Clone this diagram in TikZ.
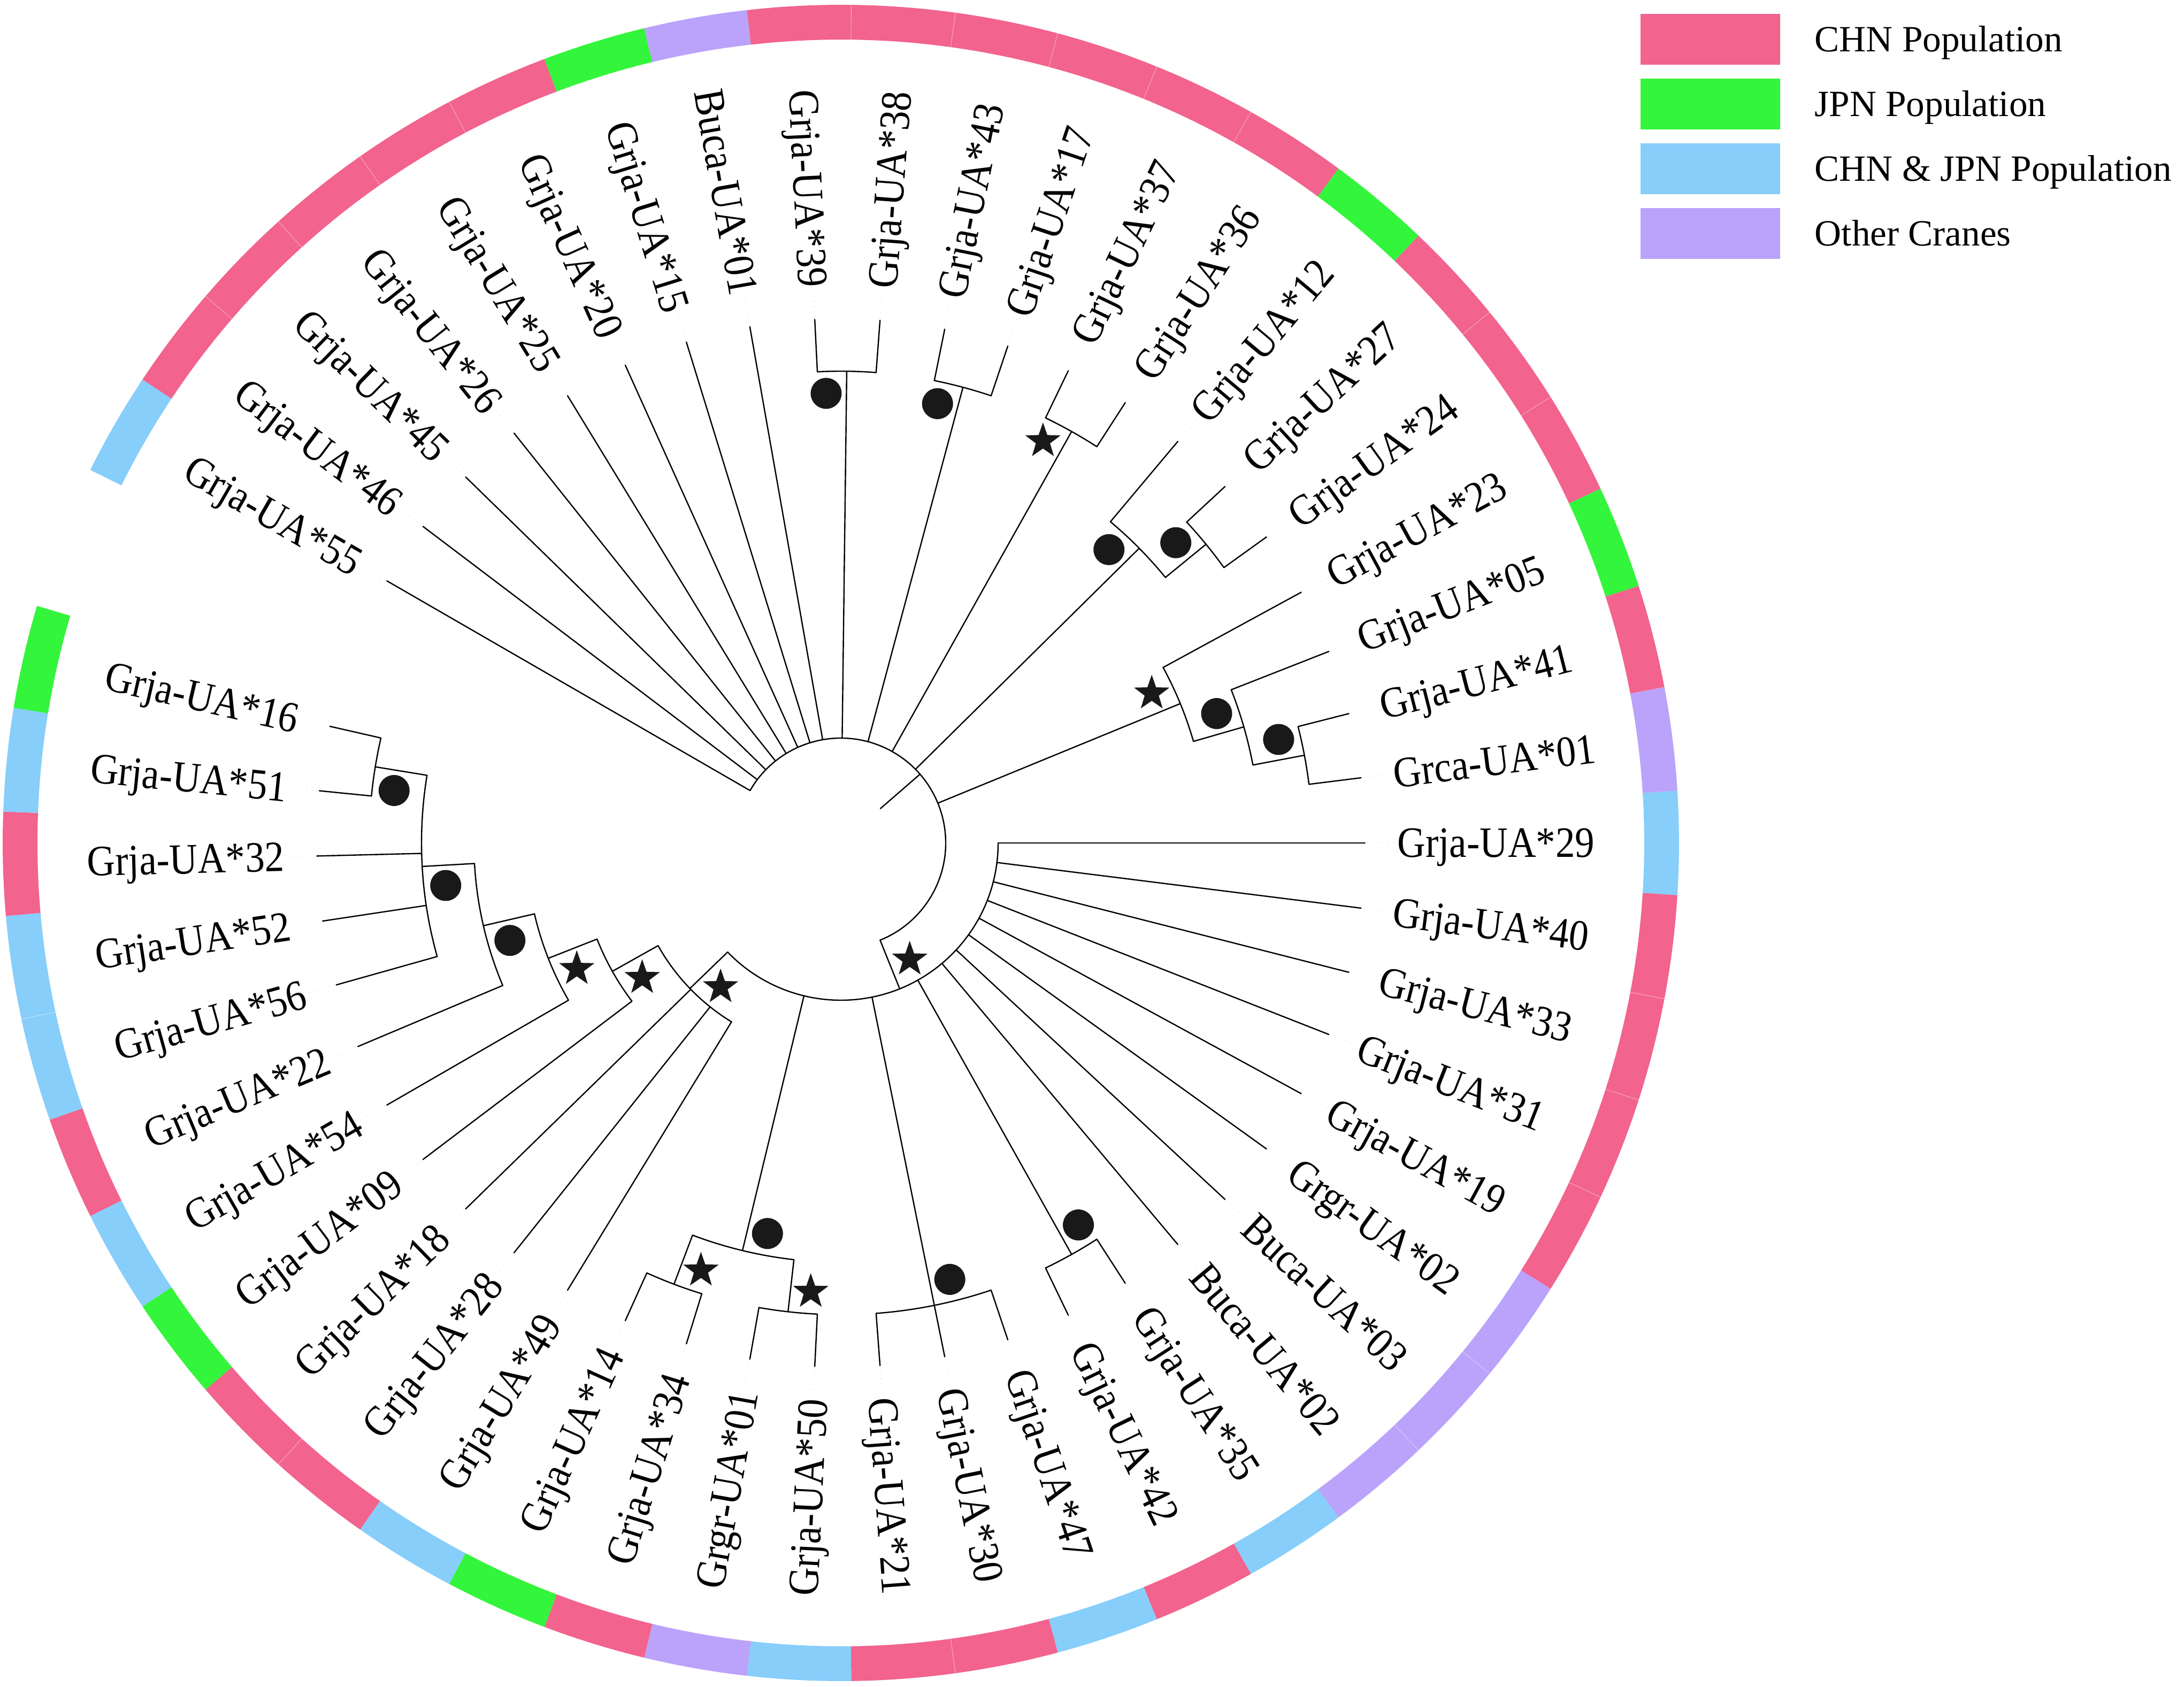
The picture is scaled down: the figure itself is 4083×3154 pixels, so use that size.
\documentclass[tikz,border=0pt]{standalone}
\usepackage{fontspec}
\setmainfont{Liberation Serif}
\newfontfamily\labfont[FakeStretch=0.9]{Liberation Serif}
\usetikzlibrary{shapes.geometric}
\definecolor{cP}{RGB}{242,99,142}
\definecolor{cG}{RGB}{51,245,59}
\definecolor{cB}{RGB}{135,206,250}
\definecolor{cV}{RGB}{187,162,250}
\tikzset{
 branch/.style={line width=0.6pt, line cap=round, line join=round},
 dotline/.style={black!9, line width=0.4pt, dotted},
 leaflab/.style={font=\labfont\fontsize{20.25pt}{22pt}\selectfont, inner sep=0pt, text height=13.4pt, text depth=0pt},
 dotmark/.style={circle, fill=black!90, inner sep=0pt, minimum size=14.5pt},
 starmark/.style={star, star points=5, star point ratio=2.5, fill=black!90, inner sep=0pt, minimum size=17.4pt},
 legbox/.style={rectangle, inner sep=0pt, minimum width=65.25pt, minimum height=23.75pt},
 legtext/.style={font=\fontsize{17.3pt}{20pt}\selectfont, inner sep=0pt, anchor=west, text height=11.4pt, text depth=0pt},
}
\newcommand{\rad}[3]{\draw[branch] (#1:#2) -- (#1:#3);}
\newcommand{\arcn}[3]{\draw[branch] (#1:#3) arc[start angle=#1, end angle=#2, radius=#3];}
\newcommand{\mk}[4]{\pgfmathsetmacro\mkR{#4-41}\pgfmathsetmacro\mkA{#3+38/\mkR*57.2958}\node[#2] (#1) at (\mkA:\mkR) {};}
\begin{document}
\begin{tikzpicture}[x=0.25pt, y=0.25pt]
\fill[white] (-1572,-1578) rectangle (2511,1576);
\useasboundingbox (-1572,-1578) rectangle (2511,1576);
% ring, leaf branches and labels
\foreach \i/\lab/\col/\pr in {
0/Grja-UA*55/cB/196, 1/Grja-UA*46/cP/196, 2/Grja-UA*45/cP/196, 3/Grja-UA*26/cP/196,
4/Grja-UA*25/cP/196, 5/Grja-UA*20/cP/196, 6/Grja-UA*15/cG/196, 7/Buca-UA*01/cV/196,
8/Grja-UA*39/cP/882, 9/Grja-UA*38/cP/882, 10/Grja-UA*43/cP/882, 11/Grja-UA*17/cP/882,
12/Grja-UA*37/cP/882, 13/Grja-UA*36/cP/882, 14/Grja-UA*12/cG/784, 15/Grja-UA*27/cP/882,
16/Grja-UA*24/cP/882, 17/Grja-UA*23/cP/686, 18/Grja-UA*05/cG/784, 19/Grja-UA*41/cP/882,
20/Grca-UA*01/cV/882, 21/Grja-UA*29/cB/294, 22/Grja-UA*40/cP/294, 23/Grja-UA*33/cP/294,
24/Grja-UA*31/cP/294, 25/Grja-UA*19/cP/294, 26/Grgr-UA*02/cV/294, 27/Buca-UA*03/cV/294,
28/Buca-UA*02/cV/294, 29/Grja-UA*35/cB/882, 30/Grja-UA*42/cP/882, 31/Grja-UA*47/cB/882,
32/Grja-UA*30/cP/882, 33/Grja-UA*21/cP/882, 34/Grja-UA*50/cB/882, 35/Grgr-UA*01/cV/882,
36/Grja-UA*34/cP/882, 37/Grja-UA*14/cG/882, 38/Grja-UA*49/cB/392, 39/Grja-UA*28/cP/392,
40/Grja-UA*18/cP/392, 41/Grja-UA*09/cG/490, 42/Grja-UA*54/cB/588, 43/Grja-UA*22/cP/686,
44/Grja-UA*56/cB/784, 45/Grja-UA*52/cB/784, 46/Grja-UA*32/cP/784, 47/Grja-UA*51/cB/882,
48/Grja-UA*16/cG/882} {
  \pgfmathsetmacro\ang{7.142857*(21-\i)}
  \pgfmathsetmacro\lo{\ang-3.5714}
  \pgfmathsetmacro\hi{\ang+3.5714}
  \fill[\col] (\hi:1502) arc[start angle=\hi, end angle=\lo, radius=1502] -- (\lo:1567) arc[start angle=\lo, end angle=\hi, radius=1567] -- cycle;
  \draw[branch] (\ang:\pr) -- (\ang:980);
  \draw[dotline] (\ang:984) -- (\ang:1036);
  \pgfmathtruncatemacro\isleft{(\ang>90)||(\ang<-90)}
  \ifnum\isleft=1
    \node[leaflab, anchor=east, rotate=\ang+180] (L\i) at (\ang:1040) {\lab};
  \else
    \node[leaflab, anchor=west, rotate=\ang] (L\i) at (\ang:1040) {\lab};
  \fi
}
% subtle separators between equal-coloured ring segments
\foreach \b in {1,2,3,4,8,9,10,11,12,15,16,22,23,24,26,27,32,39,44} {
  \pgfmathsetmacro\ba{7.142857*(20.5-\b)}
  \draw[white, opacity=0.3, line width=0.35pt] (\ba:1502) -- (\ba:1567);
}
% internal branches
\rad{40.988}{98}{196}
\arcn{150}{-68.025}{196}
\rad{89.286}{196}{882}\arcn{92.857}{85.714}{882}
\rad{75}{196}{882}\arcn{78.571}{71.429}{882}
\rad{60.714}{196}{882}\arcn{64.286}{57.143}{882}
\rad{44.643}{196}{784}\arcn{50}{39.286}{784}
\rad{39.286}{784}{882}\arcn{42.857}{35.714}{882}
\rad{22.321}{196}{686}\arcn{28.571}{16.071}{686}
\rad{16.071}{686}{784}\arcn{21.429}{10.714}{784}
\rad{10.714}{784}{882}\arcn{14.286}{7.143}{882}
\rad{-68.025}{196}{294}\arcn{0}{-136.049}{294}
\rad{-60.714}{294}{882}\arcn{-57.143}{-64.286}{882}
\rad{-78.571}{294}{882}\arcn{-71.429}{-85.714}{882}
\rad{-103.571}{294}{784}\arcn{-96.429}{-110.714}{784}
\rad{-96.429}{784}{882}\arcn{-92.857}{-100}{882}
\rad{-110.714}{784}{882}\arcn{-107.143}{-114.286}{882}
\rad{-136.049}{294}{392}\arcn{-121.429}{-150.670}{392}
\rad{-150.670}{392}{490}\arcn{-142.857}{-158.482}{490}
\rad{-158.482}{490}{588}\arcn{-150}{-166.964}{588}
\rad{-166.964}{588}{686}\arcn{-157.143}{-176.786}{686}
\rad{-176.786}{686}{784}\arcn{-164.286}{-189.286}{784}
\rad{-189.286}{784}{882}\arcn{-185.714}{-192.857}{882}
% support markers
\mk{mA}{dotmark}{89.286}{882}
\mk{mB}{dotmark}{75}{882}
\mk{mC}{starmark}{60.714}{882}
\mk{mDa}{dotmark}{44.643}{784}
\mk{mDb}{dotmark}{39.286}{882}
\mk{mE}{starmark}{22.321}{686}
\mk{mF}{dotmark}{16.071}{784}
\mk{mG}{dotmark}{10.714}{882}
\mk{mS}{starmark}{-68.025}{294}
\mk{mH}{dotmark}{-60.714}{882}
\mk{mI}{dotmark}{-78.571}{882}
\mk{mJ}{dotmark}{-103.571}{784}
\mk{mK}{starmark}{-96.429}{882}
\mk{mL}{starmark}{-110.714}{882}
\mk{mNa}{starmark}{-136.049}{392}
\mk{mNb}{starmark}{-150.670}{490}
\mk{mNc}{starmark}{-158.482}{588}
\mk{mNd}{dotmark}{-166.964}{686}
\mk{mNe}{dotmark}{-176.786}{784}
\mk{mNf}{dotmark}{-189.286}{882}
% legend
\node[legbox, fill=cP] (lb1) at (1625.5,1502) {};
\node[legbox, fill=cG] (lb2) at (1625.5,1381) {};
\node[legbox, fill=cB] (lb3) at (1625.5,1260) {};
\node[legbox, fill=cV] (lb4) at (1625.5,1139.5) {};
\node[legtext] (lt1) at (1820,1502) {CHN Population};
\node[legtext] (lt2) at (1820,1381) {JPN Population};
\node[legtext] (lt3) at (1820,1260) {CHN \& JPN Population};
\node[legtext] (lt4) at (1820,1139.5) {Other Cranes};
\end{tikzpicture}
\end{document}
